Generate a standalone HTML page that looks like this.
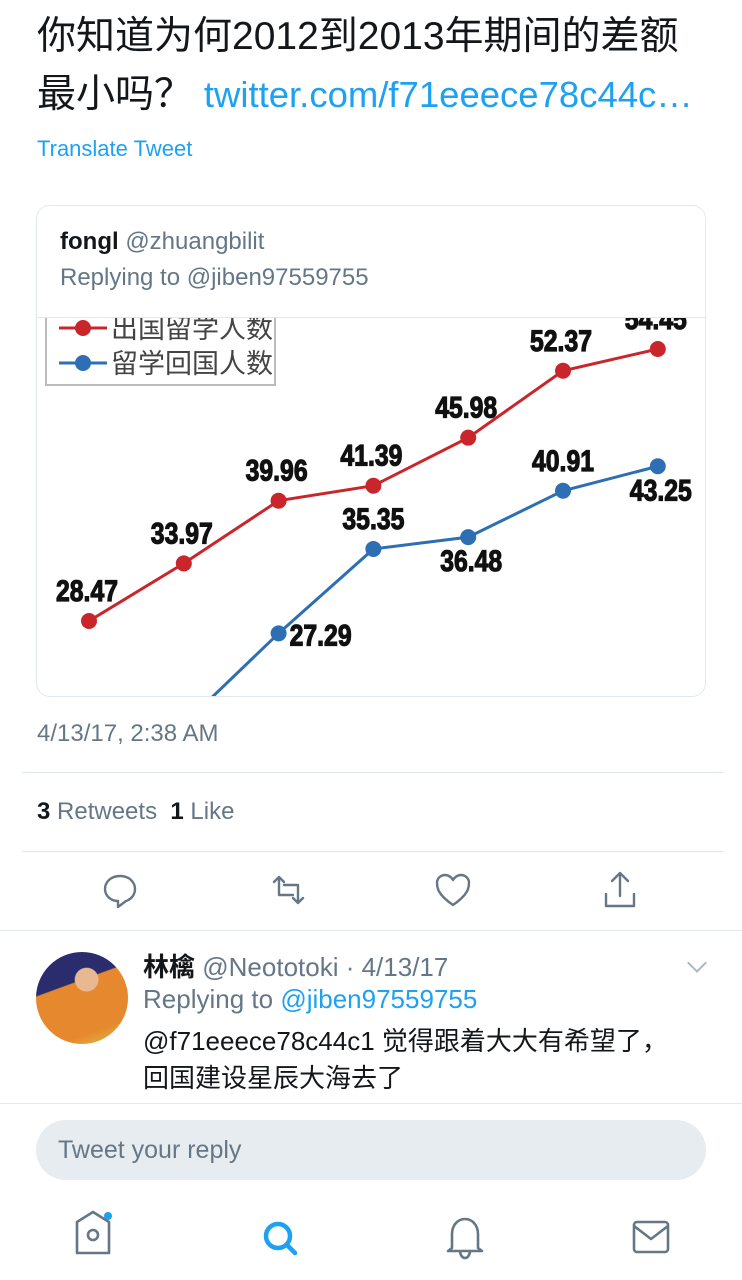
<!DOCTYPE html>
<html><head><meta charset="utf-8">
<style>
body{margin:0;width:742px;height:1280px;background:#fff;font-family:"Liberation Sans","Noto Sans CJK SC",sans-serif;position:relative;overflow:hidden;color:#14171a}
.abs{position:absolute}
.sep{position:absolute;height:1px;background:#e1e8ed}
</style></head><body>
<div class="abs" style="left:37px;top:8px;font-size:39px;line-height:58px;width:720px;white-space:nowrap">你知道为何2012到2013年期间的差额<br>最小吗？ <span style="color:#1da1f2;font-size:36.5px">twitter.com/f71eeece78c44c…</span></div>
<div class="abs" style="left:37px;top:136px;font-size:22px;color:#1da1f2">Translate Tweet</div>

<div class="abs" style="left:36px;top:205px;width:668px;height:490px;border:1px solid #e1e8ed;border-radius:14px;overflow:hidden">
 <svg class="abs" style="left:-36px;top:-205px" width="742" height="1280" id="chart"></svg>
 <div class="abs" style="left:0;top:0;width:668px;height:111px;background:#fff;border-bottom:1px solid #e1e8ed">
  <div class="abs" style="left:23px;top:22px;font-size:24px"><b>fongl</b> <span style="color:#657786">@zhuangbilit</span></div>
  <div class="abs" style="left:23px;top:58px;font-size:24px;color:#657786">Replying to @jiben97559755</div>
 </div>
</div>

<div class="abs" style="left:37px;top:720px;font-size:24px;color:#657786">4/13/17, 2:38 AM</div>
<div class="sep" style="left:22px;width:702px;top:772px"></div>
<div class="abs" style="left:37px;top:798px;font-size:24px;color:#657786"><b style="color:#14171a">3</b> Retweets &nbsp;<b style="color:#14171a">1</b> Like</div>
<div class="sep" style="left:22px;width:702px;top:851px"></div>

<svg class="abs" style="left:0;top:860px" width="742" height="60" fill="none" stroke="#657786" stroke-width="2.4" stroke-linecap="round" stroke-linejoin="round">
 <g><path d="M120 16c-9 0-15 6-15 13 0 7 6 12 13 12v6l8-6c6-2 9-7 9-12 0-7-6-13-15-13z"/></g>
 <g><path d="M274 22l5-5 5 5M279 17v18h14M303 38l-5 5-5-5M298 43V25h-14"/></g>
 <g><path d="M453 45c-16-11-16-18-16-22 0-5 4-8 8-8 4 0 7 3 8 5 1-2 4-5 8-5 4 0 8 3 8 8 0 4 0 11-16 22z"/></g>
 <g><path d="M620 14v22M612 21l8-8 8 8M606 34v12h28V34"/></g>
</svg>
<div class="sep" style="left:0;width:742px;top:930px"></div>

<div class="abs" style="left:36px;top:952px;width:92px;height:92px;border-radius:50%;background:radial-gradient(circle at 55% 30%,#e8b890 0 14%,transparent 15%),linear-gradient(160deg,#2a2c6e 0 35%,#e6892e 36% 80%,#d9c24a 100%)"></div>
<div class="abs" style="left:143px;top:947px;font-size:26px"><b>林檎</b> <span style="color:#657786">@Neototoki · 4/13/17</span></div>
<div class="abs" style="left:690px;top:956px;width:12px;height:12px;border-right:2px solid #aab8c2;border-bottom:2px solid #aab8c2;transform:rotate(45deg)"></div>
<div class="abs" style="left:143px;top:984px;font-size:26px;color:#657786">Replying to <span style="color:#1da1f2">@jiben97559755</span></div>
<div class="abs" style="left:143px;top:1023px;font-size:26px;line-height:37px">@f71eeece78c44c1 觉得跟着大大有希望了，<br>回国建设星辰大海去了</div>
<div class="sep" style="left:0;width:742px;top:1103px"></div>

<div class="abs" style="left:36px;top:1120px;width:670px;height:60px;border-radius:30px;background:#e6ecf0;font-size:25px;color:#657786;line-height:60px;text-indent:22px">Tweet your reply</div>

<svg class="abs" style="left:0;top:1200px" width="742" height="80" fill="none" stroke="#657786" stroke-width="2.6" stroke-linejoin="round">
 <g><path d="M77 22l16-10 16 10v31H77z"/><circle cx="93" cy="35" r="5"/><circle cx="108" cy="16" r="4" fill="#1da1f2" stroke="none"/></g>
 <g stroke="#1da1f2" stroke-width="4.5"><circle cx="278" cy="36" r="12"/><path d="M287 45l8 8" stroke-linecap="round"/></g>
 <g><path d="M452 48V34c0-9 6-15 13-15s13 6 13 15v14l4 3h-34z M460 52c1 4 3 6 5 6s4-2 5-6"/></g>
 <g><rect x="634" y="22" width="34" height="30" rx="3"/><path d="M634 26l17 13 17-13"/></g>
</svg>

<script>
const years=["2010","2011","2012","2013","2014","2015","2016"];
const outbound=[28.47,33.97,39.96,41.39,45.98,52.37,54.45];
const returned=[13.5,18.6,27.29,35.35,36.48,40.91,43.25];
const returnedLabels=[null,null,"27.29","35.35","36.48","40.91","43.25"];
const NS="http://www.w3.org/2000/svg";
const svg=document.getElementById('chart');
const xs=i=>88+i*94.8;
const ys=v=>620-(v-28.47)*10.47;
function mk(t,a){const e=document.createElementNS(NS,t);for(const k in a)e.setAttribute(k,a[k]);svg.appendChild(e);return e;}
function series(vals,labels,color,name,off){
 const p=mk('polyline',{points:vals.map((v,i)=>xs(i)+','+ys(v)).join(' '),fill:'none',stroke:color,'stroke-width':3});
 
 
 vals.forEach((v,i)=>{
  const c=mk('circle',{cx:xs(i),cy:ys(v),r:8,fill:color});
  
  
  const lb=labels[i];if(lb==null)return;
  const o=off(i);
  const t=mk('text',{x:xs(i)+o[0]-31,y:ys(v)+o[1],'font-size':30,'font-weight':'bold',fill:'#111',stroke:'#111','stroke-width':1.2,textLength:62,lengthAdjust:'spacingAndGlyphs'});
  t.textContent=lb;
  
  
 });
}
series(outbound,outbound.map(v=>v.toFixed(2)),'#c9262c','outbound',()=>[-2,-20]);
series(returned,returnedLabels,'#2e6fb3','returned',i=>i==2?[42,12]:(i==4||i==6)?[3,34]:[0,-20]);
const lg=mk('rect',{x:45,y:296,width:229,height:88,fill:'#fff',stroke:'#bbb','stroke-width':2});


[['#c9262c','出国留学人数',327],['#2e6fb3','留学回国人数',362]].forEach((d,k)=>{
 const l=mk('line',{x1:58,x2:106,y1:d[2],y2:d[2],stroke:d[0],'stroke-width':3});
 
 
 const c=mk('circle',{cx:82,cy:d[2],r:8,fill:d[0]});
 
 
 const t=mk('text',{x:110,y:d[2]+10,'font-size':27,fill:'#444'});
 t.textContent=d[1];
 
 
});
</script>
</body></html>
